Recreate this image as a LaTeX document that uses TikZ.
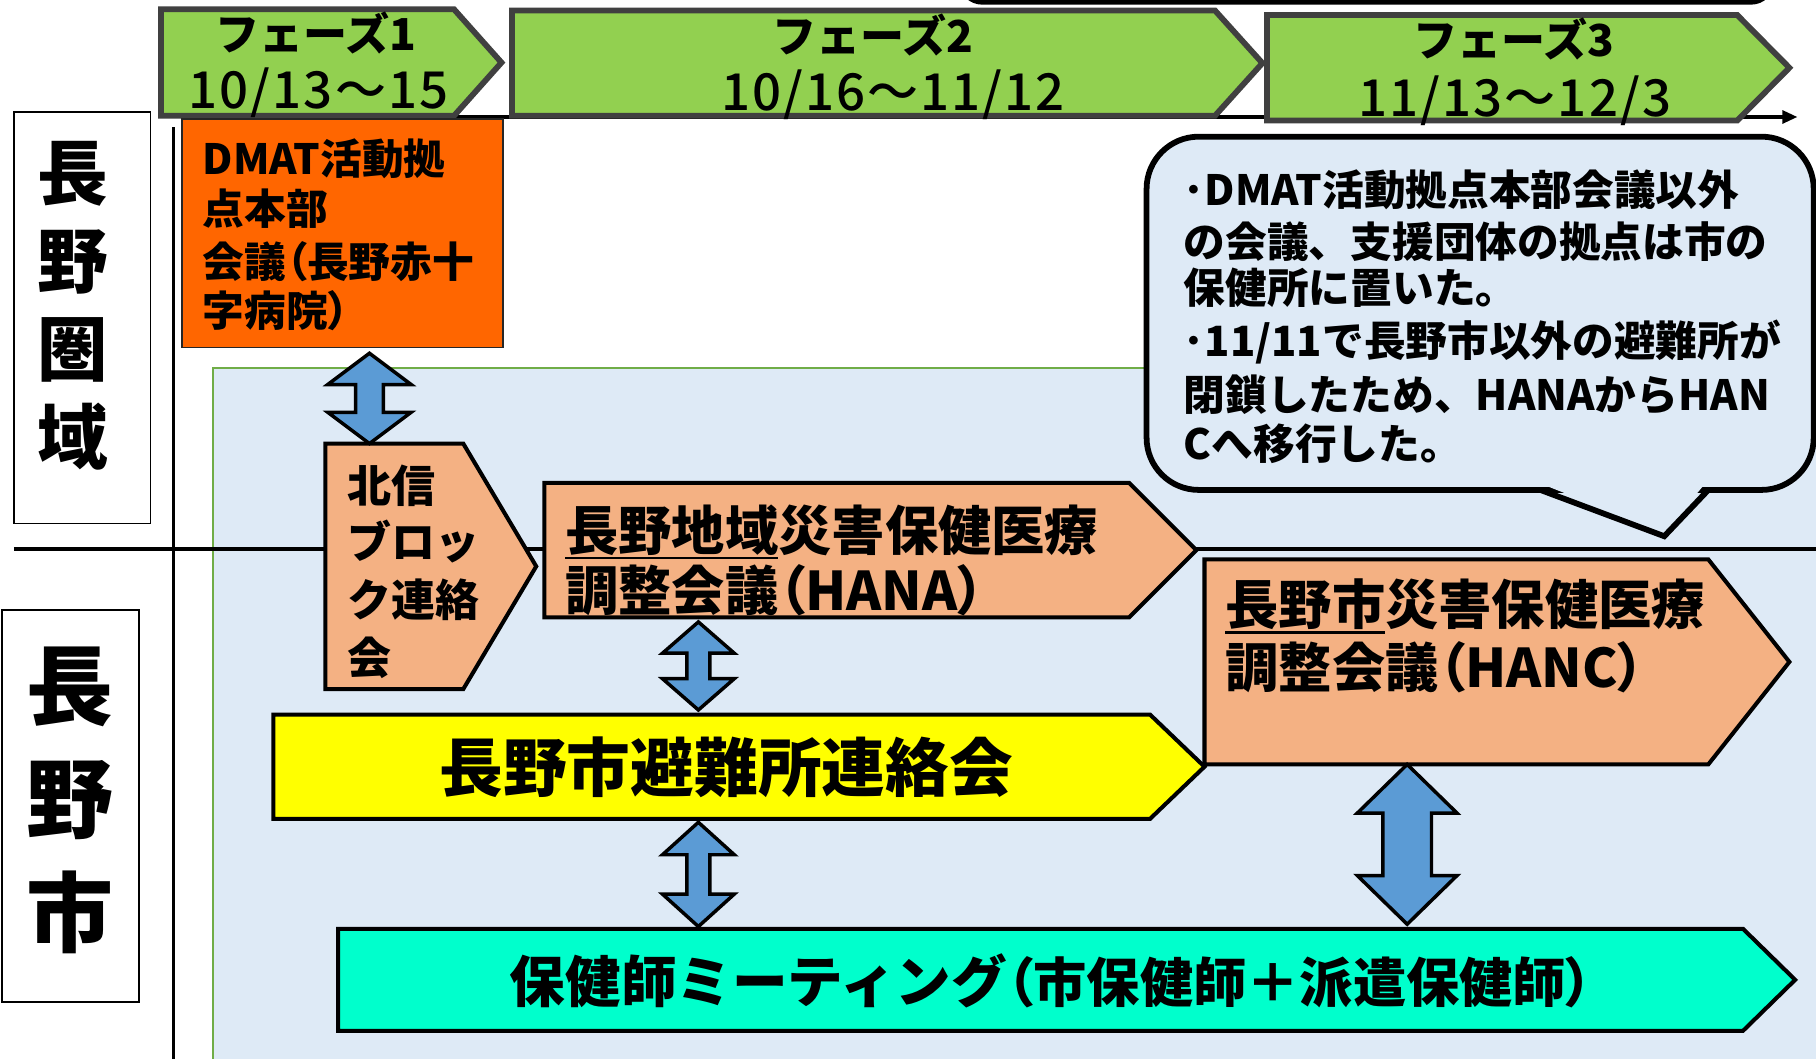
\documentclass[tikz,border=0pt]{standalone}
\usepackage{fontspec}
\setmainfont{Noto Sans CJK JP}
\newfontfamily\medfont{Noto Sans CJK JP Medium}
\usetikzlibrary{arrows.meta}
\definecolor{phgreen}{HTML}{92D050}
\definecolor{phgray}{HTML}{404040}
\definecolor{regionblue}{HTML}{DEEAF6}
\definecolor{regionline}{HTML}{70AD47}
\definecolor{dmatorange}{HTML}{FF6600}
\definecolor{salmon}{HTML}{F4B183}
\definecolor{arrowblue}{HTML}{5B9BD5}
\definecolor{aqua}{HTML}{00FFCC}
\definecolor{pureyellow}{HTML}{FFFF00}
\newcommand\fs[1]{\fontsize{#1}{#1}\selectfont\bfseries}
\newcommand\fr[1]{\fontsize{#1}{#1}\selectfont\medfont}
\newcommand\pp[1]{{\addfontfeature{RawFeature=+palt}#1}}
\newcommand\dblarrow[6]{% cx, ytop, ybot, head half width, head length, shaft half width
  \draw[dbl] (#1,#2) -- (#1+#4,#2+#5) -- (#1+#6,#2+#5) -- (#1+#6,#3-#5) -- (#1+#4,#3-#5)
    -- (#1,#3) -- (#1-#4,#3-#5) -- (#1-#6,#3-#5) -- (#1-#6,#2+#5) -- (#1-#4,#2+#5) -- cycle;}
\newcommand\penta[6]{% x1, y1, slant x, tip x, y2, style
  \draw[#6] (#1,#2) -- (#3,#2) -- (#4,{(#2+#5)/2}) -- (#3,#5) -- (#1,#5) -- cycle;}
\begin{document}
\begin{tikzpicture}[x=1pt,y=-1pt,
  phase/.style={fill=phgreen, draw=phgray, line width=5pt, line join=miter},
  blk/.style={draw=black, line width=3.5pt, line join=miter},
  dbl/.style={fill=arrowblue, draw=black, line width=3pt, line join=miter},
  txt/.style={inner sep=0pt, anchor=base west},
  ctxt/.style={inner sep=0pt, anchor=base},
  vlabel/.style={inner sep=0pt, anchor=center, align=center},
]
\useasboundingbox (0,0) rectangle (1568,914);
\clip (0,0) rectangle (1568,914);
\fill[white] (0,0) rectangle (1568,914);

% partial rounded box at the top edge
\draw[fill=white, line width=4pt, rounded corners=18pt] (830,-60) rectangle (1530,2);

% light blue region
\draw[fill=regionblue, draw=regionline, line width=1.5pt] (184,318) rectangle (1700,1000);

% division lines
\draw[line width=3pt] (12,474) -- (1568,474);
\draw[line width=3pt] (150,110) -- (150,914);

% time axis
\draw[line width=3pt, -{Triangle[length=13pt,width=11pt]}] (157,101) -- (1552,101);

% phases
\penta{139}{8}{392}{433}{100}{phase}
\penta{442}{9}{1049}{1090}{100}{phase}
\penta{1094}{13}{1500}{1545}{104}{phase}
\node[ctxt] (p1a) at (273,44) {\fs{38}フェーズ{\medfont 1}};
\node[ctxt] (p1b) at (275,94) {\fr{44}\addfontfeature{LetterSpace=4}10/13～15};
\node[ctxt] (p2a) at (754,45) {\fs{38}フェーズ{\medfont 2}};
\node[ctxt] (p2b) at (771,95) {\fr{44}\addfontfeature{LetterSpace=4}10/16～11/12};
\node[ctxt] (p3a) at (1307,49) {\fs{38}フェーズ{\medfont 3}};
\node[ctxt] (p3b) at (1308,101) {\fr{44}\addfontfeature{LetterSpace=4}11/13～12/3};

% left labels
\draw[line width=1.5pt] (12,97) rectangle (130,452);
\node[vlabel, font=\fontsize{61}{76}\selectfont\bfseries] (lab1) at (63,264) {長\\野\\圏\\域};
\draw[line width=1.5pt] (2,527) rectangle (120,865);
\node[vlabel, font=\fontsize{75}{98}\selectfont\bfseries] (lab2) at (60,691) {長\\野\\市};

% DMAT box
\draw[fill=dmatorange, draw=black!85, line width=1.5pt] (157,103) rectangle (434,300);
\node[txt] (d1) at (175,151) {\fs{36}DMAT活動拠};
\node[txt] (d2) at (175,194) {\fs{36}点本部};
\node[txt] (d3) at (175,240) {\fs{36}会議\pp{（}長野赤十};
\node[txt] (d4) at (175,282) {\fs{36}字病院\pp{）}};

% Hokushin block
\penta{281}{383}{400}{463}{595}{blk, fill=salmon}
\node[txt] (h1) at (300,434) {\fs{38}北信};
\node[txt] (h2) at (300,482) {\fs{38}ブロッ};
\node[txt] (h3) at (300,532) {\fs{38}ク連絡};
\node[txt] (h4) at (300,582) {\fs{38}会};

% HANA
\penta{470}{417}{975}{1033}{533}{blk, fill=salmon}
\node[txt] (hana1) at (488,475) {\fs{46}長野地域災害保健医療};
\node[txt] (hana2) at (488,527) {\fs{46}調整会議\pp{（}HANA\pp{）}};
\draw[line width=2pt] (488,482) -- (672,482);

% HANC
\penta{1040}{483}{1475}{1545}{660}{blk, fill=salmon}
\node[txt] (hanc1) at (1058,539) {\fs{46}長野市災害保健医療};
\node[txt] (hanc2) at (1058,594) {\fs{46}調整会議\pp{（}HANC\pp{）}};
\draw[line width=2pt] (1058,546) -- (1196,546);

% shelter liaison
\penta{236}{617}{993}{1040}{707}{blk, fill=pureyellow}
\node[ctxt] (shelter) at (627,683) {\fs{55}長野市避難所連絡会};

% nurse meeting
\penta{292}{802}{1505}{1550}{890}{blk, fill=aqua}
\node[txt] (nurse) at (440,866) {\fs{48}保健師ミーティング{\fs{46}\pp{（}市保健師＋派遣保健師\pp{）}}};

% double arrows
\dblarrow{319}{305}{383}{36}{27}{12}
\dblarrow{603}{537}{613}{31}{27}{10}
\dblarrow{603}{710}{800}{31}{28}{10}
\dblarrow{1215}{660}{798}{43}{42}{21}

% callout
\draw[fill=regionblue, line width=5pt, rounded corners=45pt] (990,118) rectangle (1566,423);
\fill[regionblue] (1334,419) -- (1471,419) -- (1437,460) -- cycle;
\draw[line width=5pt, line join=miter] (1330,423) -- (1437,463) -- (1475,423);
\node[txt] (c1) at (1022,177) {\fs{36}･DMAT活動拠点本部会議以外};
\node[txt] (c2) at (1022,222) {\fs{36}の会議、支援団体の拠点は市の};
\node[txt] (c3) at (1022,262) {\fs{36}保健所に置いた。};
\node[txt] (c4) at (1022,308) {\fs{36}･11/11で長野市以外の避難所が};
\node[txt] (c5) at (1022,354) {\fs{36}閉鎖したため、HANAからHAN};
\node[txt] (c6) at (1022,397) {\fs{36}Cへ移行した。};
\end{tikzpicture}
\end{document}
